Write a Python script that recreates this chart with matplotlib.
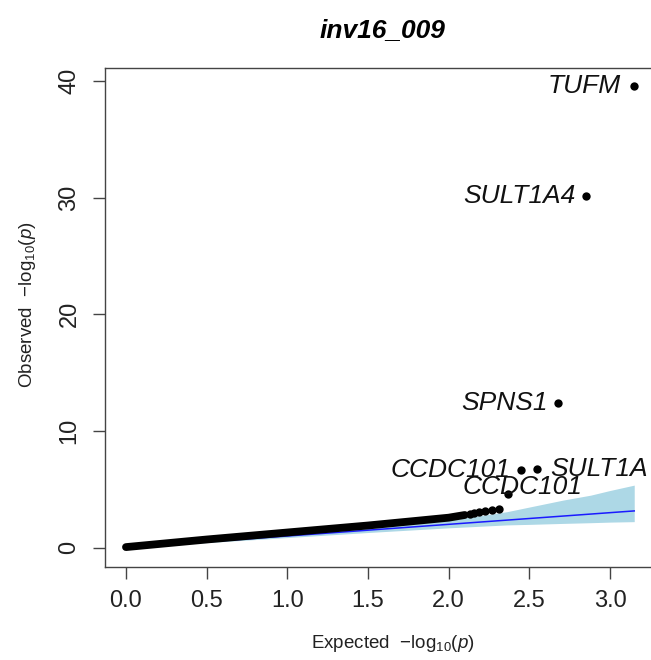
import numpy as np
import matplotlib.pyplot as plt

plt.rcParams['font.family'] = ['Liberation Sans', 'DejaVu Sans']
plt.rcParams['mathtext.fontset'] = 'custom'
plt.rcParams['mathtext.rm'] = 'Liberation Sans'
plt.rcParams['mathtext.it'] = 'Liberation Sans:italic'

title = "inv16_009"

# bulk of the points (expected vs observed), read along the dense band
bulk_exp = [0.0, 0.5, 1.0, 1.5, 1.8, 2.0, 2.1]
bulk_obs = [0.05, 0.7, 1.3, 1.9, 2.3, 2.57, 2.8]

# top ranked points
top_exp = [3.15, 2.85, 2.68, 2.55, 2.45, 2.37, 2.31, 2.27, 2.225, 2.19, 2.16, 2.13]
top_obs = [39.6, 30.1, 12.4, 6.7, 6.65, 4.6, 3.31, 3.23, 3.17, 3.08, 3.0, 2.92]

# gene labels: index into top points, offset in px, alignment
labels = ["TUFM", "SULT1A4", "SPNS1", "SULT1A", "CCDC101", "CCDC101"]
label_idx = [0, 1, 2, 3, 4, 5]
label_dx = [-13, -10, -11, 13, -11, 14]
label_dy = [0, 0, 0, 0, 0, 7]
label_ha = ["right", "right", "right", "left", "right", "center"]

# 95% band around the null line
band_x = [0.0, 1.5, 2.0, 2.36, 2.51, 2.71, 2.88, 3.0, 3.15]
band_hi = [0.05, 1.75, 2.35, 3.08, 3.51, 4.08, 4.5, 4.9, 5.36]
band_lo = [0.0, 1.3, 1.7, 1.95, 2.0, 2.08, 2.14, 2.19, 2.23]

fig = plt.figure(figsize=(6.51, 6.6), dpi=100)
ax = fig.add_axes([105/651, 93.3/660, 550.2/651, 498.7/660])

ax.fill_between(band_x, band_lo, band_hi, color="#add8e6", lw=0, zorder=1)
ax.plot([0, 3.15], [0, 3.15], color="#1a1aff", lw=1.1, zorder=2)
ax.plot(bulk_exp, bulk_obs, color="black", lw=5.6, solid_capstyle="round", zorder=3)
ax.plot(top_exp, top_obs, "o", color="black", ms=6, mew=0, zorder=4)

for lab, i, dx, dy, ha in zip(labels, label_idx, label_dx, label_dy, label_ha):
    ax.annotate(lab, (top_exp[i], top_obs[i]), xytext=(dx, dy),
                textcoords="offset pixels", ha=ha, va="center",
                fontsize=19, style="italic", color="#111111",
                annotation_clip=False, zorder=5)

ax.set_xlim(-0.13, 3.28)
ax.set_ylim(-1.63, 41.1)
ax.set_xticks([0, 0.5, 1.0, 1.5, 2.0, 2.5, 3.0])
ax.set_xticklabels(["0.0", "0.5", "1.0", "1.5", "2.0", "2.5", "3.0"])
ax.set_yticks([0, 10, 20, 30, 40])
ax.set_yticklabels(["0", "10", "20", "30", "40"], rotation=90, va="center")

for s in ax.spines.values():
    s.set_color("#444444")
    s.set_linewidth(1.0)
ax.tick_params(direction="out", length=8.6, width=1, color="#444444",
               labelsize=17, labelcolor="#222222")
ax.tick_params(axis="x", pad=8)
ax.tick_params(axis="y", pad=9)

fig.text(382/651, 1 - 30/660, title, ha="center", va="center",
         fontsize=19, weight="bold", style="italic")
fig.text(393/651, 1 - 643/660, r"Expected  $-\mathrm{log}_{10}(\mathit{p})$",
         ha="center", va="center", fontsize=13.5, color="#222222")
fig.text(28/651, 1 - 305/660, r"Observed  $-\mathrm{log}_{10}(\mathit{p})$",
         ha="center", va="center", rotation=90, fontsize=13.5, color="#222222")

fig.savefig("out.png", dpi=100)
